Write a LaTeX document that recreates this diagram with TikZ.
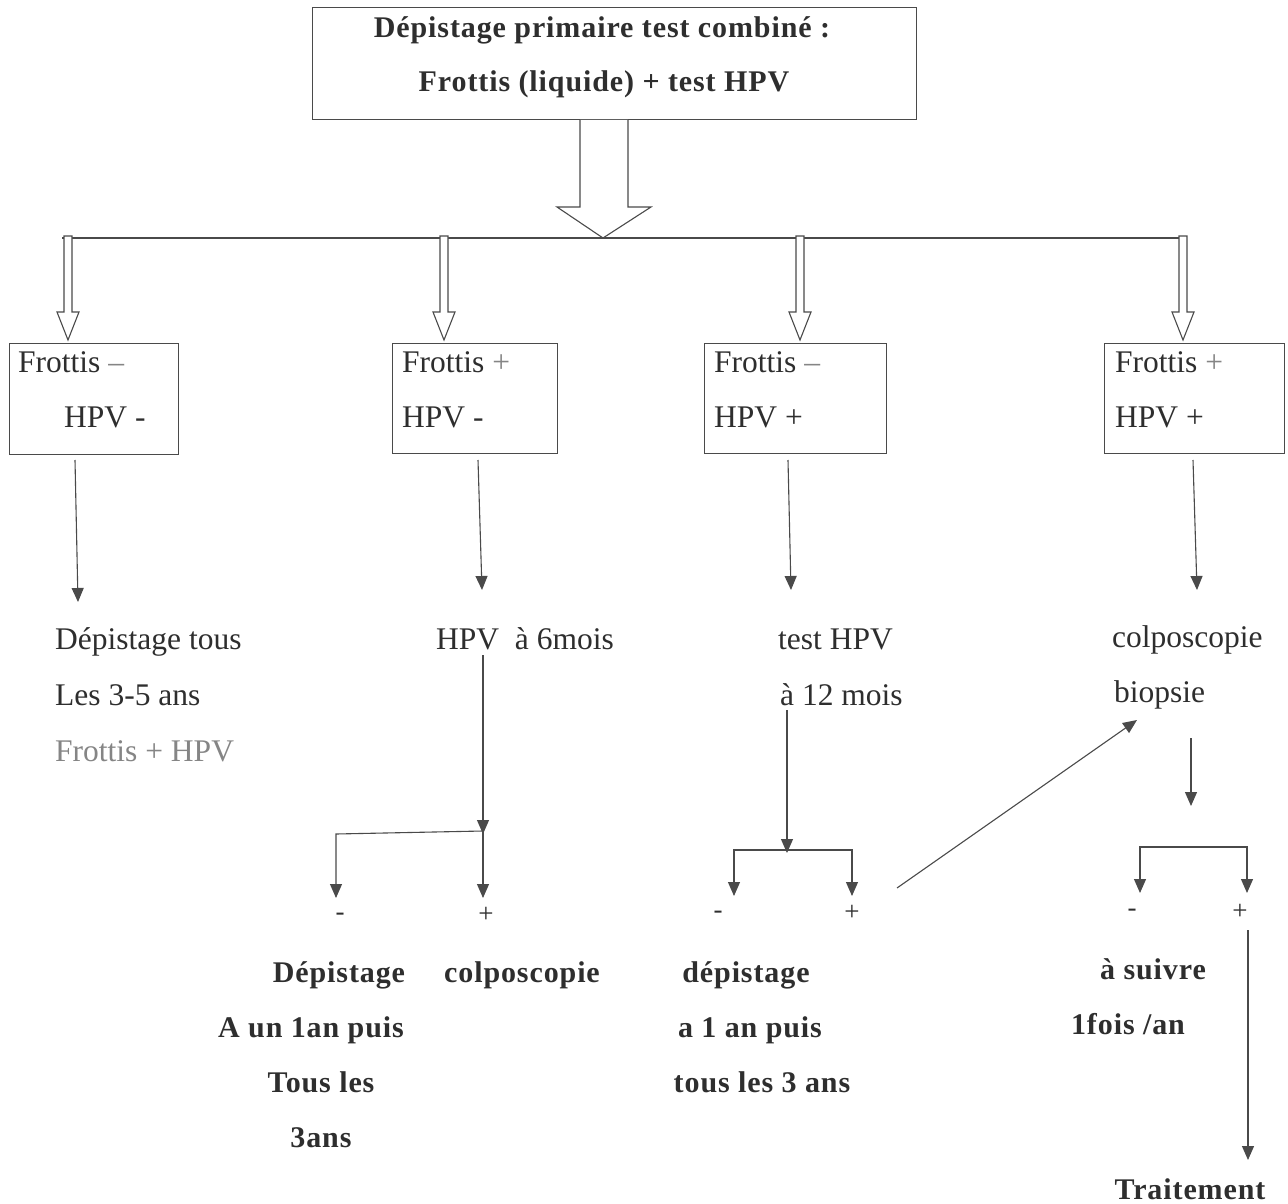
\documentclass[tikz,border=0pt]{standalone}
\usepackage{fontspec}
\setmainfont{Liberation Serif}
\usetikzlibrary{arrows.meta,calc}
\definecolor{ink}{HTML}{2E2E2E}
\definecolor{lnk}{HTML}{4A4A4A}
\definecolor{pale}{HTML}{858585}
\begin{document}
\begin{tikzpicture}[x=1pt,y=-1pt,
  txt/.style={inner sep=0pt, text=ink, font=\fontsize{31.5}{36}\selectfont},
  btxt/.style={inner sep=0pt, text=ink, font=\fontsize{30}{35}\selectfont\bfseries\addfontfeatures{LetterSpace=3}},
  sgn/.style={inner sep=0pt, text=ink, font=\fontsize{27}{30}\selectfont},
  box/.style={draw=lnk, line width=1pt, inner sep=0pt},
  thin/.style={draw=lnk, line width=1.1pt},
  tip/.style={thin, -{Triangle[width=12pt,length=14pt]}},
  hollow/.style={draw=lnk, line width=1.1pt, fill=white, line join=miter}]
\useasboundingbox (0,0) rectangle (1288,1204);
\fill[white] (0,0) rectangle (1288,1204);

% top box
\node[box, minimum width=604, minimum height=112] (top) at (614,64) {};
\node[btxt, anchor=base] (t1) at (602,38) {Dépistage primaire test combiné :};
\node[btxt, anchor=base] (t2) at (604,92) {Frottis (liquide) + test HPV};

% bus line and big hollow arrow
\coordinate (busL) at (62,238);
\coordinate (busR) at (1186,238);
\coordinate (bus) at (603,238);
\draw[draw=lnk, line width=1.8pt] (busL) -- (busR);
\draw[hollow] (580,120) -- (580,207) -- (557,207) -- (bus) -- (651,207) -- (628,207) -- (628,120);

% small hollow arrows
\foreach \x in {68,444,800,1183}
  \draw[hollow] (\x-4,236) -- (\x-4,312) -- (\x-11,312) -- (\x,340) -- (\x+11,312) -- (\x+4,312) -- (\x+4,236) -- cycle;

% boxes
\node[box, minimum width=169, minimum height=111] (b1) at (93.5,398.5) {};
\node[box, minimum width=165, minimum height=110] (b2) at (474.5,398) {};
\node[box, minimum width=182, minimum height=110] (b3) at (795,398) {};
\node[box, minimum width=180, minimum height=110] (b4) at (1194,398) {};

\node[txt, anchor=base west] (f1) at (18,372) {Frottis \textcolor{pale}{–}};
\node[txt, anchor=base west] (h1) at (64,427) {HPV -};
\node[txt, anchor=base west] (f2) at (402,372) {Frottis \textcolor{pale}{+}};
\node[txt, anchor=base west] (h2) at (402,427) {HPV -};
\node[txt, anchor=base west] (f3) at (714,372) {Frottis \textcolor{pale}{–}};
\node[txt, anchor=base west] (h3) at (714,427) {HPV +};
\node[txt, anchor=base west] (f4) at (1115,372) {Frottis \textcolor{pale}{+}};
\node[txt, anchor=base west] (h4) at (1115,427) {HPV +};

% arrows from boxes
\draw[tip] (75,460) -- (78,602);
\draw[tip] (478,460) -- (482,590);
\draw[tip] (788,460) -- (791,590);
\draw[tip] (1193,460) -- (1197,590);

% row texts
\node[txt, anchor=base west] (r1a) at (55,649) {Dépistage tous};
\node[txt, anchor=base west] (r1b) at (55,705) {Les 3-5 ans};
\node[txt, anchor=base west, text=pale] (r1c) at (55,761) {Frottis + HPV};
\node[txt, anchor=base west] (r2) at (436,649) {HPV\ \ à 6mois};
\node[txt, anchor=base west] (r3a) at (778,649) {test HPV};
\node[txt, anchor=base west] (r3b) at (780,705) {à 12 mois};
\node[txt, anchor=base west] (r4a) at (1112,647) {colposcopie};
\node[txt, anchor=base west] (r4b) at (1114,702) {biopsie};

% column 2 branches
\draw[tip] (483,655) -- (483,834);
\draw[tip] (483,831) -- (336,834) -- (336,898);
\draw[tip] (483,831) -- (483,898);
\node[sgn] (m2) at (340,917) {-};
\node[sgn] (p2) at (486,915) {+};
\node[btxt, anchor=base] (d2a) at (339,982) {Dépistage};
\node[btxt, anchor=base] (d2b) at (311,1037) {A un 1an puis};
\node[btxt, anchor=base] (d2c) at (321,1092) {Tous les};
\node[btxt, anchor=base] (d2d) at (321,1147) {3ans};
\node[btxt, anchor=base] (c2) at (522,982) {colposcopie};

% column 3 branches
\draw[tip] (787,710) -- (787,853);
\draw[tip] (787,850) -- (734,850) -- (734,896);
\draw[tip] (787,850) -- (852,850) -- (852,896);
\node[sgn] (m3) at (718,915) {-};
\node[sgn] (p3) at (852,913) {+};
\node[btxt, anchor=base] (d3a) at (746,982) {dépistage};
\node[btxt, anchor=base] (d3b) at (750,1037) {a 1 an puis};
\node[btxt, anchor=base] (d3c) at (762,1092) {tous les 3 ans};
\draw[tip] (897,888) -- (1137,720);

% column 4 branches
\draw[tip] (1191,738) -- (1191,806);
\draw[tip] (1194,847) -- (1140,847) -- (1140,893);
\draw[tip] (1194,847) -- (1247,847) -- (1247,893);
\node[sgn] (m4) at (1132,913) {-};
\node[sgn] (p4) at (1240,912) {+};
\draw[tip] (1248,930) -- (1248,1160);
\node[btxt, anchor=base] (s4a) at (1153,979) {à suivre};
\node[btxt, anchor=base] (s4b) at (1128,1034) {1fois /an};
\node[btxt, anchor=base] (tr) at (1190,1199) {Traitement};
\end{tikzpicture}
\end{document}
